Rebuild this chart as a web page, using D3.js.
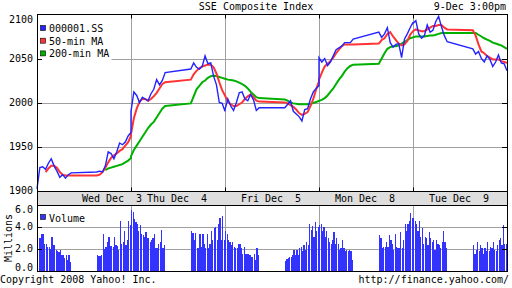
<!DOCTYPE html>
<html>
<head>
<meta charset="utf-8">
<script src="https://cdn.jsdelivr.net/npm/d3@7"></script>
<style>
body { margin: 0; background: #fff; }
text { font-family: "DejaVu Sans Mono", monospace; font-size: 10px; fill: #000; }
</style>
</head>
<body>
<script>
// five trading days, each 9:30-15:00 (330 min, lunch 11:30-13:00)
const days = ["Wed Dec  3", "Thu Dec  4", "Fri Dec  5", "Mon Dec  8", "Tue Dec  9"];
const priceTicks = [1900, 1950, 2000, 2050, 2100];
const volTicks = [0, 2, 4, 6];

// index level, sampled every 10 min, 13 points per session (am, pm)
const sse = [
  [1902,1926,1927,1924,1931,1936,1928,1922,1915,1918,1914,1918,1920],
  [1921,1922,1921,1928,1944,1942,1936,1944,1954,1952,1955,1962,1966],
  [1990,2012,2008,2000,2006,2004,2002,2010,2015,2026,2020,2025,2034],
  [2038,2045,2040,2038,2041,2053,2044,2045,2030,2020,2000,1999,1990],
  [1992,2004,1996,1991,2000,2011,2012,2004,2002,2009,2003,1991,1994],
  [1994,1998,2002,1990,1987,1984,1979,1992,1993,2004,2012,2016,2019],
  [2051,2046,2050,2042,2046,2053,2060,2062,2064,2068,2068,2068,2072],
  [2080,2074,2078,2085,2068,2063,2066,2067,2051,2072,2078,2085,2091],
  [2090,2093,2078,2073,2076,2088,2080,2082,2092,2098,2086,2076,2069],
  [2061,2055,2058,2050,2046,2053,2049,2041,2046,2054,2045,2044,2036]
];
const ma50 = [
  [null,null,null,1921,1925,1928,1928,1926,1921,1918,1917,1917,1917],
  [1917,1918,1921,1926,1932,1937,1940,1942,1945,1947,1951,1955,1962],
  [1964,1982,1993,2001,2004,2004,2002,2004,2007,2011,2016,2021,2023],
  [2026,2032,2036,2039,2041,2042,2043,2043,2040,2033,2023,2014,2008],
  [2008,2001,1998,1996,1996,1998,2000,2004,2007,2009,2006,2002,2001],
  [2000,1999,1997,1995,1992,1988,1986,1987,1989,1996,2004,2015,2024],
  [2026,2034,2041,2044,2047,2051,2056,2060,2064,2066,2066,2066,2066],
  [2067,2071,2073,2078,2080,2075,2071,2067,2065,2066,2070,2077,2081],
  [2081,2083,2082,2081,2081,2083,2085,2087,2087,2088,2088,2085,2083],
  [2082,2076,2066,2058,2056,2053,2051,2049,2049,2049,2047,2046,2045]
];
const ma200 = [
  [null,null,null,null,null,null,null,null,null,null,null,null,null],
  [null,null,null,1923,1925,1926,1927,1928,1929,1930,1932,1934,1937],
  [1939,1946,1951,1956,1961,1966,1971,1975,1978,1983,1988,1993,1996],
  [1999,2007,2015,2019,2023,2025,2028,2030,2030.5,2030,2029,2028,2027],
  [2027,2026,2025.5,2025,2024,2022.5,2021,2019,2016,2012,2009,2006,2005],
  [2003.5,2002,2000,1999,1998.5,1998,1998,1998,1998,1998.5,1999.5,2000.5,2002],
  [2002,2003,2005,2008,2012,2016,2021,2026,2030,2035,2039,2041.5,2043],
  [2044,2050,2056,2061,2063,2064,2064,2065,2067,2069,2071,2073,2074],
  [2074,2075,2075,2075,2075,2075.5,2076,2076,2077,2078,2079,2079,2079],
  [2079,2079,2077,2075,2073,2071.5,2070,2068,2067,2066,2065,2063,2061]
];
// volume in millions, 5-min bars, 24 per session
const volume = [
  [2.6,3.0,3.0,3.4,3.4,2.5,2.5,2.2,2.2,2.0,3.1,2.4,2.4,1.9,1.8,1.7,1.9,1.5,1.5,1.2,1.5,1.0,1.5,0.8],
  [1.5,1.4,1.4,1.5,3.4,2.0,2.2,2.7,3.1,2.3,2.3,2.2,3.1,2.4,2.3,1.9,4.6,2.5,2.7,3.7,2.4,2.8,4.6,4.2],
  [5.6,5.4,4.8,4.5,4.3,3.7,4.2,3.4,3.3,3.1,3.6,3.0,3.0,2.7,2.8,3.0,3.4,2.1,2.1,2.5,2.7,3.8,2.1,2.4],
  [3.7,3.5,2.8,3.5,2.1,2.1,3.4,2.2,3.4,2.5,2.1,3.4,2.1,2.5,3.7,2.8,3.9,4.0,2.8,4.3,4.9,2.8,5.0,2.8],
  [3.7,3.4,2.8,2.7,2.4,2.7,2.2,2.1,2.1,2.5,2.5,2.1,1.6,2.2,1.6,1.6,1.6,1.5,1.3,1.3,1.6,1.0,2.1,1.5],
  [0.9,1.1,1.2,1.3,1.3,1.5,1.9,1.5,1.9,1.5,2.1,2.2,1.8,2.4,1.9,2.7,2.4,4.3,3.8,4.1,3.1,4.5,3.7,4.0],
  [4.2,4.3,3.7,4.0,3.1,3.7,3.0,2.7,2.5,2.8,3.6,2.5,3.0,2.5,1.9,2.1,2.8,2.1,1.8,1.9,1.8,1.9,1.8,1.0],
  [3.3,3.0,2.1,2.2,2.2,2.7,2.2,3.3,2.8,2.5,1.9,3.4,2.2,2.1,2.1,3.6,2.1,2.8,4.3,3.7,4.3,4.6,5.3,4.9],
  [4.9,4.6,4.3,3.7,4.6,3.1,3.9,2.5,3.1,3.0,2.4,3.6,3.0,2.7,2.8,1.9,2.8,2.5,2.4,2.1,2.7,3.7,2.7,2.1],
  [2.4,1.6,1.9,2.7,1.8,2.4,2.1,1.6,2.1,1.8,2.7,1.8,2.2,2.1,2.7,1.9,1.8,2.4,2.8,3.0,2.4,4.2,2.5,2.5]
];

var W = 512, H = 288;
var left = 37, right = 507;
var mainTop = 14.5, mainBot = 191.5, bandBot = 205.5, volBot = 271.5;

var svg = d3.select("body").append("svg")
    .attr("width", W)
    .attr("height", H);

function sessionStart(s) { return Math.floor(s / 2) * 330 + (s % 2) * 210; }

var x = d3.scaleLinear().domain([0, 330 * days.length]).range([left, right]);
var y = d3.scaleLinear().domain([1900, 2100]).range([190.5, 14.5]);
var yv = d3.scaleLinear().domain([0, 6]).range([271, 205.5]);

function crisp(v) { return Math.round(v) + 0.5; }

function toPoints(series) {
  var pts = [];
  series.forEach(function(sess, s) {
    sess.forEach(function(v, k) {
      pts.push({ t: sessionStart(s) + k * 10, v: v });
    });
  });
  return pts;
}

var dayEdges = d3.range(1, days.length).map(function(d) { return d * 330; });

// ---- main price panel ----
svg.append("g").selectAll("line")
    .data(priceTicks.slice(1, -1))
  .enter().append("line")
    .attr("x1", left).attr("x2", right)
    .attr("y1", function(d) { return crisp(y(d)); })
    .attr("y2", function(d) { return crisp(y(d)); })
    .attr("stroke", "#a0a0a0");
svg.append("g").selectAll("line")
    .data(dayEdges)
  .enter().append("line")
    .attr("x1", function(d) { return crisp(x(d)); })
    .attr("x2", function(d) { return crisp(x(d)); })
    .attr("y1", mainTop).attr("y2", mainBot)
    .attr("stroke", "#a0a0a0");

var line = d3.line()
    .defined(function(d) { return d.v != null; })
    .x(function(d) { return x(d.t); })
    .y(function(d) { return y(d.v); });

svg.append("path").datum(toPoints(ma200))
    .attr("d", line).attr("fill", "none")
    .attr("stroke", "#00b000").attr("stroke-width", 2);
svg.append("path").datum(toPoints(ma50))
    .attr("d", line).attr("fill", "none")
    .attr("stroke", "#ff3333").attr("stroke-width", 2);
svg.append("path").datum(toPoints(sse))
    .attr("d", line).attr("fill", "none")
    .attr("stroke", "#2323ff").attr("stroke-width", 1.4);

// legend
svg.append("rect")
    .attr("x", left + 0.5).attr("y", mainTop + 0.5)
    .attr("width", 74).attr("height", 46)
    .attr("fill", "#fff");
var legend = [["000001.SS", "#2323ff"], ["50-min MA", "#ff3333"], ["200-min MA", "#00b000"]];
var lg = svg.append("g").selectAll("g")
    .data(legend)
  .enter().append("g")
    .attr("transform", function(d, i) { return "translate(0," + (25 + i * 12.7) + ")"; });
lg.append("rect")
    .attr("x", 40.5).attr("y", 0.5).attr("width", 5).attr("height", 5)
    .attr("fill", function(d) { return d[1]; })
    .attr("stroke", "#000").attr("stroke-width", 0.6);
lg.append("text")
    .attr("x", 49).attr("y", 4)
    .attr("dominant-baseline", "middle")
    .text(function(d) { return d[0]; });

// ticks + frame
svg.append("g").selectAll("path")
    .data(priceTicks.slice(1, -1))
  .enter().append("path")
    .attr("d", function(d) {
      var yy = crisp(y(d));
      return "M" + left + "," + yy + "h5M" + right + "," + yy + "h-5";
    })
    .attr("stroke", "#000");
svg.append("g").selectAll("path")
    .data(dayEdges)
  .enter().append("path")
    .attr("d", function(d) {
      var xx = crisp(x(d));
      return "M" + xx + "," + mainTop + "v4M" + xx + "," + mainBot + "v-4";
    })
    .attr("stroke", "#000");
svg.append("rect")
    .attr("x", left + 0.5).attr("y", mainTop)
    .attr("width", right - left).attr("height", mainBot - mainTop)
    .attr("fill", "none").attr("stroke", "#000");

svg.append("g").selectAll("text")
    .data(priceTicks)
  .enter().append("text")
    .attr("x", 33)
    .attr("y", function(d) { return Math.max(y(d), 20); })
    .attr("text-anchor", "end")
    .attr("dominant-baseline", "middle")
    .text(function(d) { return d; });

// ---- date band ----
svg.append("rect")
    .attr("x", left + 0.5).attr("y", mainBot)
    .attr("width", right - left).attr("height", bandBot - mainBot)
    .attr("fill", "#dedede").attr("stroke", "#000");
svg.append("g").selectAll("text")
    .data(days)
  .enter().append("text")
    .attr("x", function(d, i) { return x(i * 330 + 165) + (i === 0 ? 28 : -1); })
    .attr("y", 199)
    .attr("text-anchor", "middle")
    .attr("dominant-baseline", "middle")
    .style("white-space", "pre")
    .text(function(d) { return d; });

// ---- volume panel ----
svg.append("g").selectAll("line")
    .data(volTicks.slice(1, -1))
  .enter().append("line")
    .attr("x1", left).attr("x2", right)
    .attr("y1", function(d) { return crisp(yv(d)); })
    .attr("y2", function(d) { return crisp(yv(d)); })
    .attr("stroke", "#a0a0a0");
svg.append("g").selectAll("line")
    .data(dayEdges)
  .enter().append("line")
    .attr("x1", function(d) { return crisp(x(d)); })
    .attr("x2", function(d) { return crisp(x(d)); })
    .attr("y1", bandBot).attr("y2", volBot)
    .attr("stroke", "#a0a0a0");

var bars = [];
volume.forEach(function(sess, s) {
  sess.forEach(function(v, i) { bars.push({ t: sessionStart(s) + i * 5 + 2.5, v: v }); });
});
svg.append("g").selectAll("rect")
    .data(bars)
  .enter().append("rect")
    .attr("x", function(d) { return x(d.t) - 0.6; })
    .attr("width", 1.2)
    .attr("y", function(d) { return yv(d.v); })
    .attr("height", function(d) { return yv(0) - yv(d.v); })
    .attr("fill", "#3333ff")
    .attr("shape-rendering", "crispEdges");

svg.append("g").selectAll("path")
    .data(volTicks.slice(1, -1))
  .enter().append("path")
    .attr("d", function(d) {
      var yy = crisp(yv(d));
      return "M" + left + "," + yy + "h5M" + right + "," + yy + "h-5";
    })
    .attr("stroke", "#000");
svg.append("rect")
    .attr("x", left + 0.5).attr("y", bandBot)
    .attr("width", right - left).attr("height", volBot - bandBot)
    .attr("fill", "none").attr("stroke", "#000");

svg.append("rect")
    .attr("x", 40.5).attr("y", 214.5).attr("width", 5).attr("height", 5)
    .attr("fill", "#3333ff").attr("stroke", "#000").attr("stroke-width", 0.6);
svg.append("text")
    .attr("x", 49).attr("y", 219)
    .attr("dominant-baseline", "middle")
    .text("Volume");

svg.append("g").selectAll("text")
    .data(volTicks)
  .enter().append("text")
    .attr("x", 33)
    .attr("y", function(d) { return Math.min(Math.max(yv(d), 210), 268); })
    .attr("text-anchor", "end")
    .attr("dominant-baseline", "middle")
    .text(function(d) { return d3.format(".1f")(d); });
svg.append("text")
    .attr("transform", "translate(9,238) rotate(-90)")
    .attr("text-anchor", "middle")
    .attr("dominant-baseline", "middle")
    .text("Millions");

// ---- titles ----
svg.append("text")
    .attr("x", 256).attr("y", 7)
    .attr("text-anchor", "middle")
    .attr("dominant-baseline", "middle")
    .text("SSE Composite Index");
svg.append("text")
    .attr("x", 506).attr("y", 7)
    .attr("text-anchor", "end")
    .attr("dominant-baseline", "middle")
    .text("9-Dec 3:00pm");
svg.append("text")
    .attr("x", 0).attr("y", 280)
    .attr("dominant-baseline", "middle")
    .text("Copyright 2008 Yahoo! Inc.");
svg.append("text")
    .attr("x", 509).attr("y", 280)
    .attr("text-anchor", "end")
    .attr("dominant-baseline", "middle")
    .text("http://finance.yahoo.com/");
</script>
</body>
</html>
